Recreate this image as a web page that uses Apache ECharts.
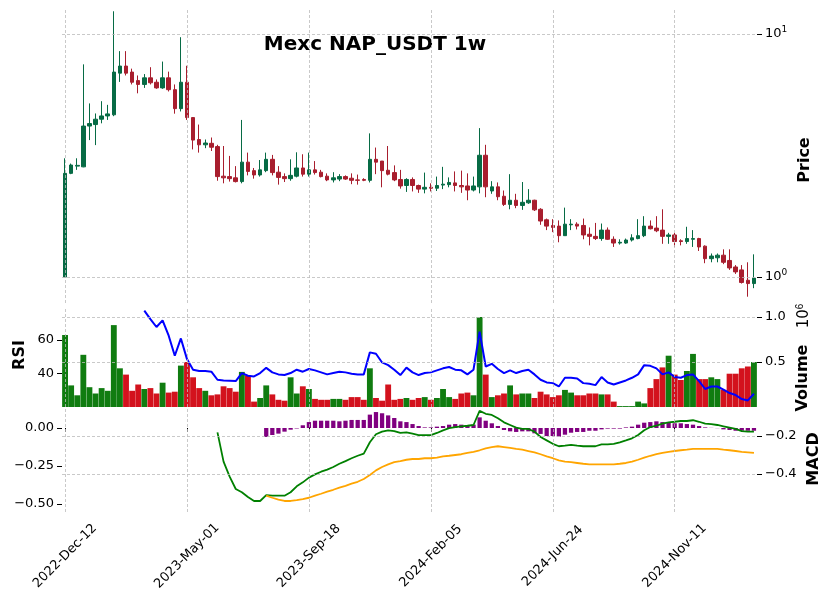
<!DOCTYPE html>
<html>
<head>
<meta charset="utf-8">
<script src="https://cdn.jsdelivr.net/npm/echarts@6/dist/echarts.min.js"></script>
<style>html,body{margin:0;padding:0;background:#fff}#chart{width:833px;height:600px}</style>
</head>
<body>
<div id="chart"></div>
<script>
// weekly OHLC
const opens = [1.00,2.67,2.86,2.84,4.18,4.24,4.46,4.60,4.65,6.90,7.38,6.97,6.43,6.20,6.60,6.33,6.00,6.60,5.90,4.93,
  6.33,4.53,3.68,3.50,3.55,3.44,2.60,2.59,2.56,2.47,2.97,2.74,2.63,2.74,3.05,2.70,2.59,2.54,2.60,2.81,
  2.65,2.76,2.70,2.60,2.51,2.53,2.59,2.55,2.51,2.52,2.50,3.05,3.00,2.75,2.69,2.52,2.38,2.52,2.38,2.30,
  2.34,2.32,2.39,2.40,2.44,2.38,2.37,2.28,2.35,3.17,2.26,2.35,2.15,1.99,2.07,1.97,2.02,2.07,1.90,1.72,
  1.63,1.62,1.48,1.64,1.65,1.63,1.50,1.47,1.44,1.56,1.43,1.38,1.38,1.42,1.44,1.48,1.62,1.59,1.56,1.47,
  1.49,1.41,1.40,1.43,1.44,1.34,1.19,1.20,1.23,1.17,1.10,1.07,0.97,0.94];
const closes = [2.67,2.89,2.88,4.18,4.28,4.46,4.60,4.69,6.97,7.38,6.90,6.33,6.20,6.60,6.30,6.00,6.60,5.90,4.93,6.33,
  4.53,3.66,3.50,3.56,3.42,2.59,2.56,2.54,2.47,2.97,2.72,2.63,2.76,3.05,2.69,2.57,2.54,2.62,2.81,2.65,
  2.76,2.69,2.59,2.51,2.56,2.59,2.53,2.50,2.50,2.50,3.05,2.97,2.74,2.65,2.51,2.37,2.52,2.38,2.30,2.34,
  2.32,2.38,2.41,2.45,2.38,2.35,2.28,2.37,3.17,2.35,2.35,2.14,1.99,2.07,1.97,2.03,2.07,1.89,1.70,1.62,
  1.60,1.48,1.65,1.65,1.62,1.49,1.47,1.44,1.56,1.43,1.38,1.39,1.42,1.45,1.48,1.62,1.58,1.55,1.47,1.49,
  1.40,1.40,1.44,1.44,1.33,1.19,1.22,1.23,1.15,1.09,1.05,0.95,0.94,0.99];
const highs = [3.08,2.93,3.08,7.50,5.18,4.71,5.29,5.11,12.4,8.50,8.50,7.20,6.75,6.84,7.30,6.50,7.70,7.00,6.20,9.70,
  7.40,4.55,4.24,3.68,3.75,3.50,3.46,3.15,2.86,4.43,3.25,2.81,3.03,3.25,3.18,2.86,2.67,3.05,3.26,3.20,
  3.25,3.00,2.76,2.67,2.70,2.65,2.62,2.67,2.64,2.55,3.90,3.41,3.00,3.46,2.88,2.76,2.55,2.57,2.40,2.69,
  2.43,2.59,2.84,2.57,2.72,2.74,2.67,2.59,4.10,3.50,2.48,2.45,2.27,2.65,2.20,2.46,2.30,2.08,1.92,1.74,
  1.73,1.71,1.93,1.73,1.68,1.74,1.60,1.67,1.66,1.60,1.47,1.43,1.44,1.50,1.73,1.78,1.71,1.78,1.90,1.52,
  1.52,1.43,1.61,1.56,1.45,1.35,1.25,1.25,1.30,1.30,1.12,1.12,1.15,1.24];
const lows = [1.00,2.65,2.76,2.83,3.66,3.49,4.29,4.43,4.59,6.35,6.75,6.20,5.70,6.00,6.20,5.95,5.95,5.80,4.70,4.80,
  4.43,3.35,3.25,3.39,3.30,2.49,2.43,2.47,2.45,2.43,2.62,2.54,2.59,2.70,2.62,2.40,2.46,2.49,2.57,2.59,
  2.59,2.64,2.57,2.48,2.45,2.48,2.51,2.41,2.40,2.48,2.45,2.65,2.34,2.62,2.48,2.31,2.24,2.25,2.22,2.21,
  2.25,2.26,2.30,2.34,2.25,2.22,2.07,2.25,2.21,2.13,2.20,2.07,1.96,1.90,1.92,1.89,2.00,1.87,1.64,1.56,
  1.53,1.39,1.48,1.56,1.57,1.43,1.35,1.42,1.41,1.42,1.33,1.36,1.37,1.40,1.43,1.46,1.57,1.53,1.37,1.37,
  1.33,1.35,1.37,1.33,1.28,1.14,1.15,1.15,1.13,1.07,1.03,0.94,0.83,0.90];
const volumes = [800000,240000,130000,580000,220000,150000,210000,180000,910000,430000,
  360000,180000,250000,200000,210000,150000,270000,160000,170000,460000,
  500000,330000,210000,180000,130000,140000,230000,210000,170000,390000,
  350000,60000,100000,240000,140000,80000,70000,330000,150000,230000,
  200000,90000,80000,80000,90000,90000,80000,110000,110000,80000,
  430000,100000,70000,250000,80000,90000,100000,80000,100000,110000,
  80000,100000,200000,110000,90000,150000,160000,130000,1000000,360000,
  110000,130000,150000,240000,140000,150000,150000,100000,170000,140000,
  110000,130000,190000,160000,130000,130000,150000,150000,140000,140000,
  60000,10000,10000,10000,60000,40000,210000,310000,440000,570000,
  360000,300000,400000,590000,310000,310000,330000,310000,190000,370000,
  370000,430000,450000,500000];
const rsi = [null,null,null,null,null,null,null,null,null,null,null,null,null,77.3,
  72.3,67.6,71.5,62.4,50.5,60.8,48.5,42.2,41.4,41.4,41.0,36.2,35.8,35.6,35.4,40.2,
  38.6,38.2,40.2,43.3,40.6,39.4,39.0,40.2,42.2,41.0,42.6,41.8,40.6,39.4,40.2,41.0,
  40.6,39.8,39.4,39.4,52.5,51.7,46.5,44.9,42.2,39.0,43.4,40.6,39.0,40.2,40.6,41.8,
  43.0,43.8,42.2,41.8,39.4,42.2,64.8,44.1,45.7,42.6,40.2,41.8,40.2,41.4,42.2,39.4,
  36.2,34.6,34.2,32.2,37.4,37.4,37.0,34.2,33.8,33.0,37.8,34.6,33.4,34.6,35.8,37.4,
  39.4,44.9,44.5,43.0,39.4,40.6,37.8,37.4,39.0,39.4,35.4,30.7,32.2,32.2,30.3,28.3,
  27.1,24.7,23.9,27.9];
const macdLine = [null,null,null,null,null,null,null,null,null,null,null,null,null,null,null,null,null,null,null,null,
  null,null,null,null,null,-0.181,-0.335,-0.414,-0.479,-0.496,-0.521,-0.542,-0.542,-0.511,-0.514,-0.514,-0.514,-0.496,-0.465,-0.444,
  -0.419,-0.402,-0.388,-0.377,-0.363,-0.346,-0.332,-0.317,-0.304,-0.293,-0.233,-0.191,-0.177,-0.170,-0.174,-0.184,-0.181,-0.188,-0.195,-0.195,
  -0.195,-0.184,-0.170,-0.159,-0.153,-0.149,-0.146,-0.142,-0.068,-0.083,-0.089,-0.107,-0.128,-0.142,-0.156,-0.163,-0.163,-0.177,-0.205,-0.223,
  -0.241,-0.254,-0.251,-0.247,-0.251,-0.254,-0.254,-0.254,-0.244,-0.244,-0.241,-0.233,-0.223,-0.212,-0.195,-0.170,-0.153,-0.146,-0.135,-0.128,
  -0.125,-0.121,-0.121,-0.117,-0.125,-0.135,-0.138,-0.142,-0.149,-0.156,-0.163,-0.174,-0.177,-0.177];
const signalLine = [null,null,null,null,null,null,null,null,null,null,null,null,null,null,null,null,null,null,null,null,
  null,null,null,null,null,null,null,null,null,null,null,null,null,-0.514,-0.525,-0.535,-0.542,-0.542,-0.538,-0.532,
  -0.525,-0.514,-0.504,-0.493,-0.483,-0.472,-0.462,-0.451,-0.441,-0.426,-0.405,-0.381,-0.363,-0.349,-0.338,-0.332,-0.325,-0.321,-0.321,-0.317,
  -0.317,-0.314,-0.307,-0.304,-0.300,-0.296,-0.289,-0.283,-0.275,-0.265,-0.258,-0.254,-0.258,-0.262,-0.268,-0.272,-0.279,-0.286,-0.296,-0.307,
  -0.317,-0.328,-0.335,-0.338,-0.342,-0.346,-0.349,-0.349,-0.349,-0.349,-0.349,-0.346,-0.342,-0.335,-0.325,-0.314,-0.304,-0.296,-0.289,-0.283,
  -0.279,-0.275,-0.272,-0.268,-0.268,-0.268,-0.268,-0.268,-0.272,-0.275,-0.279,-0.283,-0.286,-0.289];
const macdHist = [null,null,null,null,null,null,null,null,null,null,null,null,null,null,null,null,null,null,null,null,
  null,null,null,null,null,null,null,null,null,null,null,null,null,-0.059,-0.046,-0.037,-0.024,-0.011,-0.003,0.018,
  0.039,0.048,0.048,0.048,0.048,0.044,0.048,0.053,0.053,0.053,0.088,0.105,0.097,0.083,0.066,0.044,0.039,0.026,0.013,0.004,
  0.004,0.009,0.013,0.022,0.026,0.022,0.018,0.022,0.070,0.048,0.031,0.013,-0.013,-0.022,-0.026,-0.022,-0.022,-0.035,-0.039,-0.053,
  -0.053,-0.057,-0.044,-0.031,-0.026,-0.026,-0.018,-0.018,-0.009,-0.004,-0.004,-0.004,0.004,0.009,0.022,0.035,0.039,0.044,0.039,0.039,
  0.031,0.031,0.026,0.022,0.013,0.004,0.001,-0.001,-0.009,-0.013,-0.018,-0.018,-0.018,-0.018];

// axis ticks shown in the picture
const priceTicks = [1, 10];
const volumeTicks = [500000, 1000000];
const rsiTicks = [40, 60];
const macdLeftTicks = [0, -0.25, -0.5];
const macdRightTicks = [-0.2, -0.4];

const MONTHS = ['Jan','Feb','Mar','Apr','May','Jun','Jul','Aug','Sep','Oct','Nov','Dec'];
const dates = [];
for (let i = 0; i < opens.length; i++) {
  const d = new Date(Date.UTC(2022, 11, 12 + 7 * i));
  dates.push(d.getUTCFullYear() + '-' + MONTHS[d.getUTCMonth()] + '-' + String(d.getUTCDate()).padStart(2, '0'));
}
const labelIdx = dates.map((_, i) => i).filter(i => i % 20 === 0);
const ohlc = opens.map((o, i) => [o, closes[i], lows[i], highs[i]]);
const isUp = i => closes[i] >= opens[i];

const F = 'DejaVu Sans';
const GRID = { color: '#bbbbbb', type: [3, 2], width: 0.8 };
const TICK = { show: true, length: 5, lineStyle: { color: '#000' } };
const LBL = { fontFamily: F, fontSize: 13, color: '#000' };
const minus = s => s.replace('-', '\u2212');

// dashed grid drawn as mark lines on an empty series that sits behind the data
function gridSeries(xIdx, yIdx, yValues, withXTicks) {
  const data = labelIdx.map(i => ({ xAxis: dates[i] }));
  (yValues || []).forEach(v => data.push({ yAxis: v }));
  return {
    type: 'line', xAxisIndex: xIdx, yAxisIndex: yIdx, data: [], z: 0, silent: true,
    markLine: { silent: true, symbol: 'none', label: { show: false }, lineStyle: GRID, emphasis: { disabled: true }, data }
  };
}

function xAxis(gridIndex, showLabels) {
  return {
    type: 'category', gridIndex, data: dates, boundaryGap: true,
    axisLine: { show: false }, splitLine: { show: false },
    axisTick: { show: showLabels, alignWithLabel: true, interval: i => i % 20 === 0, length: 4, lineStyle: { color: '#000' } },
    axisLabel: Object.assign({
      show: showLabels, interval: i => i % 20 === 0, rotate: 45, align: 'center', verticalAlign: 'middle', margin: 44
    }, LBL)
  };
}

const chart = echarts.init(document.getElementById('chart'));
chart.setOption({
  animation: false,
  backgroundColor: '#fff',
  grid: [
    { left: 62, right: 76, top: 10, height: 293 },
    { left: 62, right: 76, top: 309, height: 98 },
    { left: 62, right: 76, top: 408, height: 104 }
  ],
  xAxis: [xAxis(0, false), xAxis(1, false), xAxis(2, true)],
  yAxis: [
    {
      type: 'log', logBase: 10, gridIndex: 0, position: 'right', min: 0.782, max: 12.55,
      axisLine: { show: false }, splitLine: { show: false },
      axisTick: Object.assign({ customValues: priceTicks }, TICK),
      axisLabel: Object.assign({
        customValues: priceTicks, margin: 8,
        formatter: v => '10{s|' + Math.round(Math.log10(v)) + '}',
        rich: { s: { fontSize: 9, verticalAlign: 'top', padding: [0, 0, 8, 0], fontFamily: F } }
      }, LBL)
    },
    {
      type: 'value', gridIndex: 1, position: 'right', min: 0, max: 1089000,
      axisLine: { show: false }, splitLine: { show: false },
      axisTick: Object.assign({ customValues: volumeTicks }, TICK),
      axisLabel: Object.assign({ customValues: volumeTicks, formatter: v => (v / 1e6).toFixed(1) }, LBL)
    },
    {
      type: 'value', gridIndex: 1, position: 'left', min: 20, max: 78.3,
      axisLine: { show: false }, splitLine: { show: false },
      axisTick: Object.assign({ customValues: rsiTicks }, TICK),
      axisLabel: Object.assign({ customValues: rsiTicks }, LBL)
    },
    {
      type: 'value', gridIndex: 2, position: 'left', min: -0.5526, max: 0.1316,
      axisLine: { show: false }, splitLine: { show: false },
      axisTick: Object.assign({ customValues: macdLeftTicks }, TICK),
      axisLabel: Object.assign({ customValues: macdLeftTicks, formatter: v => minus(v.toFixed(2)) }, LBL)
    },
    {
      type: 'value', gridIndex: 2, position: 'right', min: -0.6, max: -0.0526,
      axisLine: { show: false }, splitLine: { show: false },
      axisTick: Object.assign({ customValues: macdRightTicks }, TICK),
      axisLabel: Object.assign({ customValues: macdRightTicks, formatter: v => minus(v.toFixed(1)) }, LBL)
    }
  ],
  graphic: [
    { type: 'text', x: 375, y: 35, style: { text: 'Mexc NAP_USDT 1w', font: 'bold 20px "DejaVu Sans"', fill: '#000', align: 'center', verticalAlign: 'top' } },
    { type: 'text', x: 797, y: 160, rotation: Math.PI / 2, style: { text: 'Price', font: 'bold 16px "DejaVu Sans"', fill: '#000', align: 'center', verticalAlign: 'top' } },
    { type: 'text', x: 12, y: 355, rotation: Math.PI / 2, style: { text: 'RSI', font: 'bold 16px "DejaVu Sans"', fill: '#000', align: 'center', verticalAlign: 'top' } },
    { type: 'text', x: 795, y: 378, rotation: Math.PI / 2, style: { text: 'Volume', font: 'bold 16px "DejaVu Sans"', fill: '#000', align: 'center', verticalAlign: 'top' } },
    { type: 'text', x: 795, y: 316, rotation: Math.PI / 2, style: { text: '10{s|6}', rich: { s: { fontSize: 10, verticalAlign: 'top', padding: [0, 0, 8, 0] } }, font: '15px "DejaVu Sans"', fill: '#000', align: 'center', verticalAlign: 'top' } },
    { type: 'text', x: 806, y: 459, rotation: Math.PI / 2, style: { text: 'MACD', font: 'bold 16px "DejaVu Sans"', fill: '#000', align: 'center', verticalAlign: 'top' } }
  ],
  series: [
    gridSeries(0, 0, priceTicks),
    gridSeries(1, 1, volumeTicks),
    gridSeries(2, 4, macdRightTicks),
    {
      name: 'Price', type: 'candlestick', xAxisIndex: 0, yAxisIndex: 0, barWidth: '66%',
      itemStyle: { color: '#076b45', color0: '#a81e2e', borderColor: '#076b45', borderColor0: '#a81e2e', borderWidth: 1 },
      data: ohlc
    },
    {
      name: 'Volume', type: 'bar', xAxisIndex: 1, yAxisIndex: 1, barWidth: '96%',
      itemStyle: { color: p => (isUp(p.dataIndex) ? '#107c10' : '#d3121d') },
      data: volumes
    },
    {
      name: 'RSI', type: 'line', xAxisIndex: 1, yAxisIndex: 2, showSymbol: false,
      lineStyle: { color: '#0000ff', width: 2 }, data: rsi
    },
    {
      name: 'Hist', type: 'bar', xAxisIndex: 2, yAxisIndex: 3, barWidth: '70%',
      itemStyle: { color: '#800080' }, data: macdHist
    },
    {
      name: 'MACD', type: 'line', xAxisIndex: 2, yAxisIndex: 4, showSymbol: false,
      lineStyle: { color: '#008000', width: 1.8 }, data: macdLine
    },
    {
      name: 'Signal', type: 'line', xAxisIndex: 2, yAxisIndex: 4, showSymbol: false,
      lineStyle: { color: '#ffa500', width: 1.8 }, data: signalLine
    }
  ]
});
</script>
</body>
</html>
